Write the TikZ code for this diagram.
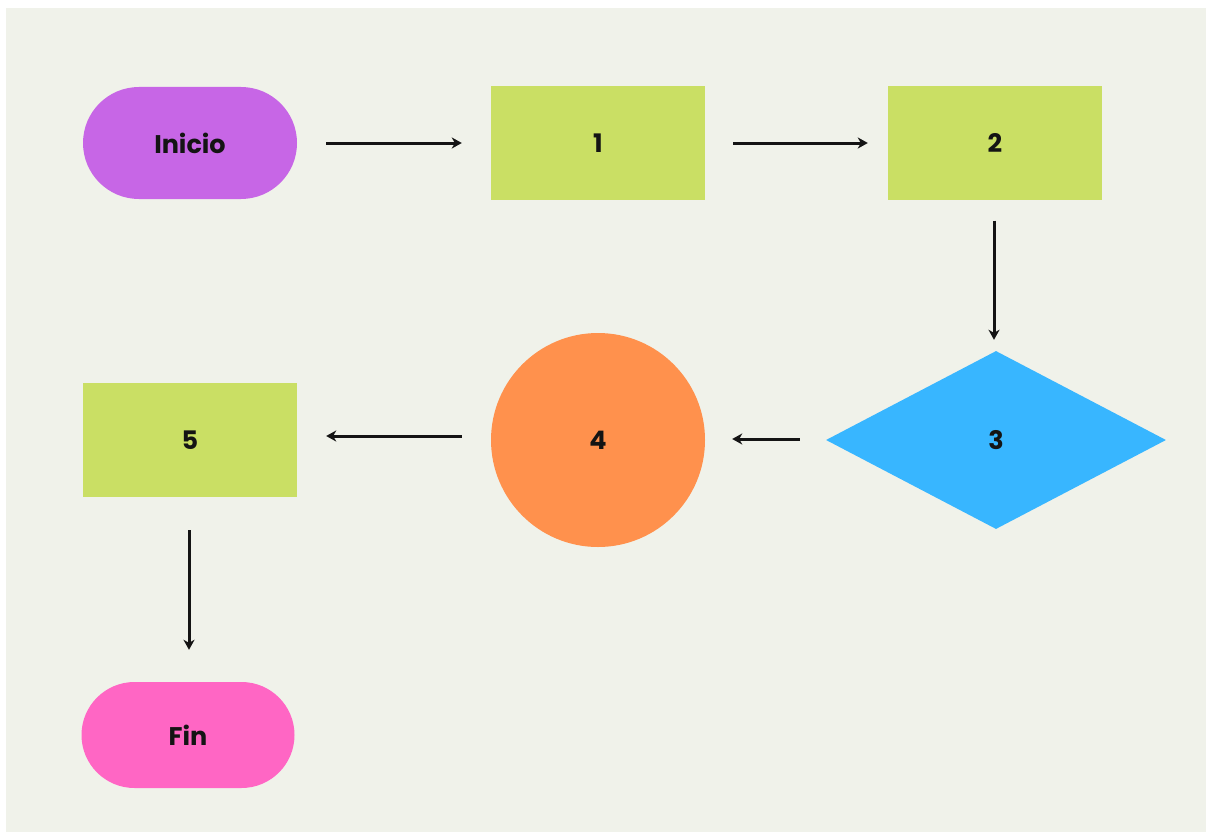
\documentclass[tikz,border=0pt]{standalone}
\usepackage{fontspec}
\setmainfont{Poppins}
\usetikzlibrary{shapes.geometric,shapes.misc,arrows.meta}
\definecolor{bgpaper}{HTML}{F0F2EA}
\definecolor{cpurple}{HTML}{C766E6}
\definecolor{clime}{HTML}{CADF64}
\definecolor{cblue}{HTML}{38B6FF}
\definecolor{corange}{HTML}{FF914D}
\definecolor{cpink}{HTML}{FF66C4}
\definecolor{ink}{HTML}{141414}
\tikzset{
  shp/.style={draw=none, inner sep=0pt, text=ink, font=\bfseries\fontsize{25.5}{25.5}\selectfont},
  terminal/.style={shp, rounded rectangle, minimum width=214pt, minimum height=112pt},
  procbox/.style={shp, rectangle, minimum width=214pt, minimum height=113pt, fill=clime},
  decision/.style={shp, diamond, minimum width=340pt, minimum height=178pt, fill=cblue},
  junction/.style={shp, circle, minimum size=214pt, fill=corange},
  flow/.style={-{Stealth[length=10pt,width=11pt,inset=3pt]}, line width=3pt, draw=ink}
}
\begin{document}
\begin{tikzpicture}[x=1pt,y=-1pt]
  % canvas
  \fill[white] (0,0) rectangle (1206,832);
  \fill[bgpaper] (6,8) rectangle (1206,832);
  \useasboundingbox (0,0) rectangle (1206,832);

  % nodes
  \node[terminal, fill=cpurple] (ini) at (190,143) {Inicio};
  \node[procbox] (p1) at (598,143) {1};
  \node[procbox] (p2) at (995,143) {2};
  \node[decision] (d3) at (996,440) {3};
  \node[junction] (c4) at (598,440) {4};
  \node[procbox, minimum height=114pt] (p5) at (190,440) {5};
  \node[terminal, fill=cpink, minimum width=213pt, minimum height=106pt] (fin) at (188,735) {Fin};

  % connectors
  \draw[flow, shorten <=29pt, shorten >=29pt] (ini.east) -- (p1.west);
  \draw[flow, shorten <=28pt, shorten >=20pt] (p1.east) -- (p2.west);
  \draw[flow, shorten <=21pt, shorten >=11pt] ([xshift=-1pt]p2.south) -- ([xshift=-2pt]d3.north);
  \draw[flow, shorten <=26pt, shorten >=27pt] ([yshift=1pt]d3.west) -- ([yshift=1pt]c4.east);
  \draw[flow, shorten <=29pt, shorten >=29pt] ([yshift=4pt]c4.west) -- ([yshift=4pt]p5.east);
  \draw[flow, shorten <=33pt, shorten >=32pt] ([xshift=-1pt]p5.south) -- ([xshift=1pt]fin.north);
\end{tikzpicture}
\end{document}
